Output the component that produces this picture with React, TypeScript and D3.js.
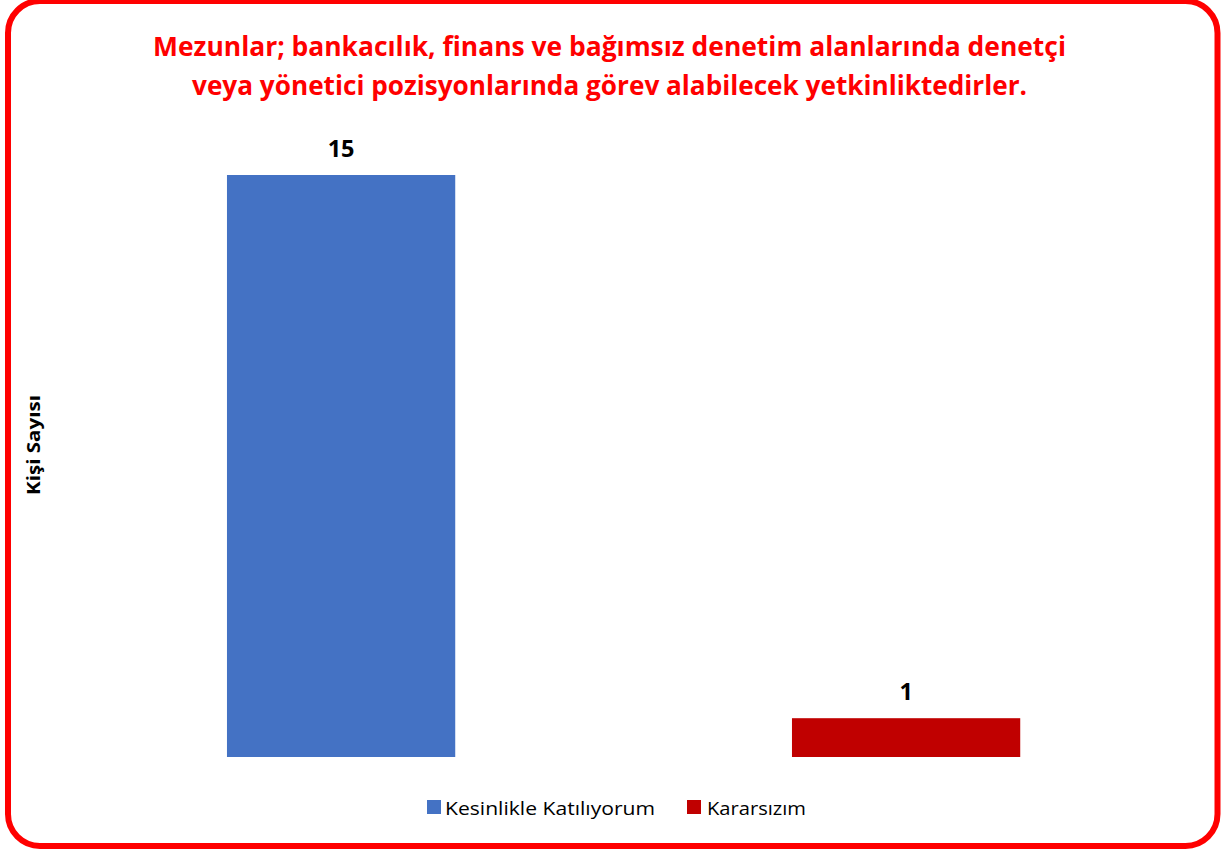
import React from "react";
import * as d3 from "d3";

const categories = ["Kesinlikle Katılıyorum", "Kararsızım"];
const values = [15, 1];
const colors = ["#4472C4", "#C00000"];
const titleLines = [
  "Mezunlar; bankacılık, finans ve bağımsız denetim alanlarında denetçi",
  "veya yönetici pozisyonlarında görev alabilecek yetkinliktedirler.",
];
const yTitle = "Kişi Sayısı";

const W = 1226;
const H = 850;
const FONT = "'Open Sans', 'Noto Sans', sans-serif";

export default function App() {
  const plotLeft = 58.6;
  const plotRight = 1188.6;
  const baseline = 757;
  const x = d3
    .scaleBand<string>()
    .domain(categories)
    .range([plotLeft, plotRight])
    .paddingInner(0.596)
    .paddingOuter(0.298);
  const y = d3.scaleLinear().domain([0, 15]).range([baseline, 175]);

  const legendItems = [
    { label: categories[0], color: colors[0], sx: 427, tx: 445, tw: 210 },
    { label: categories[1], color: colors[1], sx: 687, tx: 707, tw: 99 },
  ];

  return (
    <svg
      width={W}
      height={H}
      style={{ position: "absolute", left: 0, top: 0, background: "#fff" }}
      fontFamily={FONT}
    >
      <rect
        x={8}
        y={1}
        width={1209.5}
        height={845}
        rx={32}
        ry={32}
        fill="#fff"
        stroke="#FF0000"
        strokeWidth={6}
      />
      {titleLines.map((t, i) => (
        <text
          key={i}
          x={609.5}
          y={56 + i * 39}
          textAnchor="middle"
          fill="#FF0000"
          fontWeight="bold"
          fontSize={26.5}
          textLength={i === 0 ? 913 : 835}
          lengthAdjust="spacingAndGlyphs"
        >
          {t}
        </text>
      ))}
      <text
        transform={`translate(39.5,445) rotate(-90)`}
        textAnchor="middle"
        fontWeight="bold"
        fontSize={18}
        fill="#000"
        textLength={100}
        lengthAdjust="spacingAndGlyphs"
      >
        {yTitle}
      </text>
      {categories.map((c, i) => (
        <g key={c}>
          <rect
            x={x(c)!}
            y={y(values[i])}
            width={x.bandwidth()}
            height={baseline - y(values[i])}
            fill={colors[i]}
          />
          <text
            x={x(c)! + x.bandwidth() / 2}
            y={y(values[i]) - 18}
            textAnchor="middle"
            fontWeight="bold"
            fontSize={23.5}
            fill="#000"
          >
            {values[i]}
          </text>
        </g>
      ))}
      {legendItems.map((l) => (
        <g key={l.label}>
          <rect x={l.sx} y={800} width={14} height={14} fill={l.color} />
          <text
            x={l.tx}
            y={815}
            fontSize={19}
            fill="#000"
            textLength={l.tw}
            lengthAdjust="spacingAndGlyphs"
          >
            {l.label}
          </text>
        </g>
      ))}
    </svg>
  );
}
